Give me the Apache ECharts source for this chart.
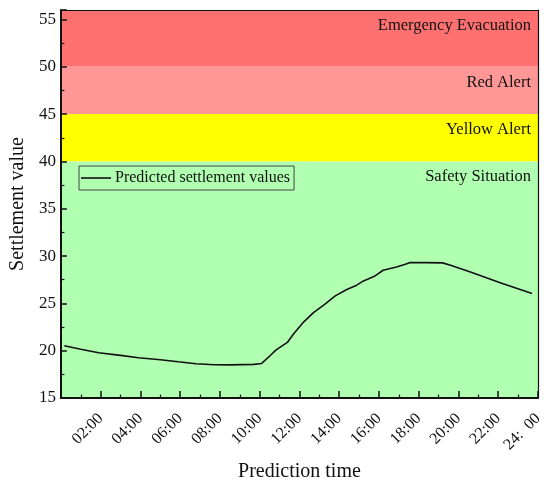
<!DOCTYPE html>
<html>
<head>
<meta charset="utf-8">
<script src="https://cdn.jsdelivr.net/npm/echarts@6/dist/echarts.min.js"></script>
<style>
html,body{margin:0;padding:0;background:#fff;}
#chart{width:550px;height:488px;}
</style>
</head>
<body>
<div id="chart"></div>
<script>
// Prediction time (hours) and predicted settlement values
const hours = [0.17, 1.0, 1.9, 3.0, 3.9, 5.0, 5.9, 6.8, 7.7, 8.5, 9.7, 10.1, 10.56, 10.81, 11.39, 11.72, 12.22, 12.72, 13.22, 13.8, 14.38, 14.88, 15.22, 15.8, 16.21, 16.88, 17.29, 17.54, 18.37, 19.2, 19.6, 20.6, 22.1, 23.7];
const values = [20.52, 20.15, 19.78, 19.5, 19.25, 19.05, 18.83, 18.62, 18.51, 18.5, 18.55, 18.65, 19.54, 20.06, 20.87, 21.82, 23.05, 24.04, 24.81, 25.79, 26.47, 26.92, 27.37, 27.9, 28.5, 28.85, 29.1, 29.3, 29.31, 29.28, 29.03, 28.32, 27.17, 26.04];
// Alert bands
const bandNames = ['Emergency Evacuation', 'Red Alert', 'Yellow Alert', 'Safety Situation'];
const bandLower = [50, 45, 40, 15];
const bandUpper = [56, 50, 45, 40];
const bandColors = ['#FF7171', '#FF9797', '#FFFF00', '#B1FFB1'];
const xTickHours = [0, 2, 4, 6, 8, 10, 12, 14, 16, 18, 20, 22, 24];
const xTickLabels = ['', '02:00', '04:00', '06:00', '08:00', '10:00', '12:00', '14:00', '16:00', '18:00', '20:00', '22:00', '24:  00'];
const seriesName = 'Predicted settlement values';

const FONT = "'Times New Roman', 'Liberation Serif', serif";
const chart = echarts.init(document.getElementById('chart'));

const areaData = bandNames.map((n, i) => [
  { name: n, yAxis: bandLower[i], itemStyle: { color: bandColors[i], opacity: 1 } },
  { yAxis: bandUpper[i] }
]);

chart.setOption({
  animation: false,
  textStyle: { fontFamily: FONT },
  grid: { left: 58, right: 12, top: 10, bottom: 90 },
  legend: {
    data: [{ name: seriesName, icon: 'rect' }],
    left: 79, top: 166,
    itemWidth: 30, itemHeight: 1.6, itemGap: 4,
    padding: [4, 4, 4, 2],
    borderColor: '#444', borderWidth: 1,
    textStyle: { fontFamily: FONT, fontSize: 16, color: '#111', padding: [0, 0, 0, -1] }
  },
  xAxis: [{
    type: 'value', min: 0, max: 24, interval: 2, z: 10,
    name: 'Prediction time', nameLocation: 'middle', nameGap: 64,
    nameTextStyle: { fontFamily: FONT, fontSize: 20, color: '#111' },
    axisLine: { show: true, onZero: false, lineStyle: { color: '#111', width: 2 } },
    axisTick: { show: true, inside: true, length: 7, lineStyle: { color: '#111', width: 1.5 } },
    minorTick: { show: true, splitNumber: 2, length: 3.5, lineStyle: { color: '#111', width: 1.2 } },
    splitLine: { show: false },
    axisLabel: {
      rotate: 45, margin: 18, fontFamily: FONT, fontSize: 16, color: '#111',
      formatter: v => { const i = xTickHours.indexOf(v); return i >= 0 ? xTickLabels[i] : ''; }
    }
  }, {
    type: 'value', min: 0, max: 24, position: 'top', z: 10,
    axisLine: { show: true, onZero: false, lineStyle: { color: '#111', width: 1.2 } },
    axisTick: { show: false }, axisLabel: { show: false }, splitLine: { show: false }
  }],
  yAxis: [{
    type: 'value', min: 15, max: 56, interval: 5, z: 10,
    name: 'Settlement value', nameLocation: 'middle', nameGap: 30,
    nameTextStyle: { fontFamily: FONT, fontSize: 20, color: '#111' },
    axisLine: { show: true, onZero: false, lineStyle: { color: '#111', width: 2 } },
    axisTick: { show: true, inside: true, length: 6, lineStyle: { color: '#111', width: 1.5 } },
    minorTick: { show: true, splitNumber: 2, length: 3.5, lineStyle: { color: '#111', width: 1.2 } },
    splitLine: { show: false },
    axisLabel: {
      margin: 5, fontFamily: FONT, fontSize: 17, color: '#111',
      formatter: v => (v % 5 === 0 ? String(v) : '')
    }
  }, {
    type: 'value', min: 15, max: 56, position: 'right', z: 10,
    axisLine: { show: true, onZero: false, lineStyle: { color: '#111', width: 1.2 } },
    axisTick: { show: false }, axisLabel: { show: false }, splitLine: { show: false }
  }],
  series: [{
    name: 'bands', type: 'line', data: [], z: 1, silent: true,
    markArea: {
      silent: true,
      label: {
        show: true, position: 'insideTopRight', distance: 7,
        fontFamily: FONT, fontSize: 16.5, color: '#111'
      },
      data: areaData
    }
  }, {
    name: seriesName, type: 'line', z: 5,
    data: hours.map((h, i) => [h, values[i]]),
    showSymbol: false, symbol: 'none', smooth: false,
    lineStyle: { color: '#111', width: 1.6 },
    itemStyle: { color: '#111' }
  }]
});
</script>
</body>
</html>
